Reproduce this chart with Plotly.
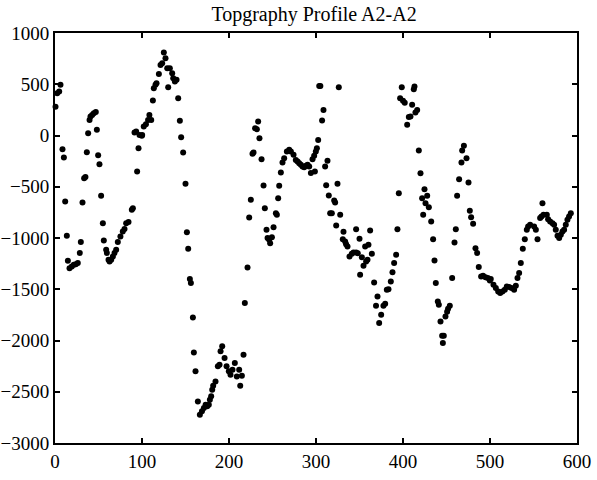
import plotly.graph_objects as go

TEXT_COLOR = "black"
FONT_FAMILY = "Liberation Serif, Times New Roman, serif"

distance = [
    0.6, 2.5, 4.8, 6.3, 8.6, 10.2, 11.7, 13.6, 14.8, 16.7, 19.3, 21.6, 23.9, 26.2,
    28.5, 29.7, 31.6, 33.5, 35.0, 36.6, 38.1, 39.7, 40.8, 42.7, 44.6, 46.9, 48.1,
    49.6, 51.1, 53.0, 55.0, 56.1, 58.8, 59.6, 61.5, 62.7, 64.6, 66.5, 68.4, 70.3,
    72.2, 75.2, 77.9, 79.9, 81.8, 84.5, 88.3, 89.5, 91.4, 93.3, 94.4, 96.0, 97.1,
    99.8,
    100.2, 102.0, 104.5, 107.0, 108.5, 110.6, 112.5, 113.6, 115.5, 116.7, 119.4,
    121.3, 123.2, 125.1, 127.0, 129.0, 130.1, 132.0, 134.7, 135.9, 137.8, 139.7,
    141.6, 143.5, 145.0, 147.3, 150.0, 151.6, 153.1, 155.0, 156.2, 158.5, 159.6,
    161.5, 164.2, 166.5, 168.9, 171.1, 173.1, 175.0, 176.8, 178.0, 179.5, 180.7,
    181.8, 184.5, 187.2, 189.1, 190.3, 192.2, 194.9, 197.2, 199.8, 201.7,
    204.0, 206.7, 209.0, 211.7, 212.9, 214.8, 216.7, 218.2, 221.3, 223.2, 225.1,
    227.0, 228.2, 230.0, 232.0, 233.5, 235.0, 237.4, 239.7, 241.2, 243.1, 244.3,
    246.2, 247.3, 249.3, 251.2, 253.9, 255.0, 256.5, 257.7, 259.6, 261.5, 263.4,
    266.5, 269.2, 271.1, 274.2, 276.8, 278.8, 280.7, 282.6, 284.5, 286.4, 288.4,
    290.3, 292.2, 294.1, 296.0, 297.9, 298.7, 299.8, 301.0, 302.5, 303.7,
    305.0, 307.0, 308.6, 310.5, 311.7, 313.2, 314.7, 316.3, 318.2, 320.9, 322.0,
    323.2, 324.7, 326.2, 327.8, 330.8, 331.6, 333.5, 334.6, 336.2, 338.5, 341.2,
    343.1, 346.1, 346.1, 348.0, 350.0, 350.7, 352.7, 354.6, 356.5, 357.6, 359.2,
    360.3, 362.2, 364.2, 366.8, 369.0, 370.7, 372.6, 374.9, 377.5, 379.5, 381.4,
    383.3, 386.0, 387.9, 389.8, 392.1, 393.6, 395.2, 396.7, 398.6, 400.0, 402.0,
    404.8, 406.7, 408.6, 410.5, 412.4, 413.2, 414.3, 416.3, 418.2, 420.1, 422.0,
    423.2, 424.7, 425.9, 427.8, 429.7, 432.4, 434.6, 436.2, 437.7, 440.0, 441.2,
    443.1, 445.0, 445.8, 446.9, 448.8, 450.7, 451.8, 453.8, 456.5, 459.2, 460.7,
    462.2, 464.5, 467.2, 468.0, 470.0, 473.0, 475.3, 476.8, 478.3, 480.6, 483.3,
    485.2, 487.1, 489.8, 492.0, 494.8, 497.5, 499.8,
    500.9, 504.0, 506.7, 509.4, 511.7, 514.3, 517.0, 519.3, 522.0, 524.7, 527.7,
    529.7, 531.6, 533.5, 535.4, 537.7, 540.0, 542.3, 543.8, 546.1, 550.7, 552.7,
    554.6, 557.6, 559.2, 560.3, 561.5, 565.3, 566.8, 569.1, 571.8, 573.7, 575.6,
    577.6, 579.5, 581.4, 583.3, 585.2, 587.1, 589.0, 590.9, 592.9,
]

elevation = [
    281, 413, 429, 494, -134, -215, -644, -979, -1222, -1294, -1277, -1262, -1255,
    -1245, -1147, -1040, -653, -416, -406, -163, 22, 152, 185, 201, 217, 230, 55,
    -192, -280, -589, -855, -1024, -1115, -1147, -1212, -1229, -1212, -1180, -1147,
    -1115, -1040, -985, -936, -913, -855, -845, -725, -709, 29, 39, -351, -124, 6,
    -3,
    6, 87, 110, 152, 200, 152, 341, 461, 494, 510, 601, 688, 705, 809, 754, 656,
    471, 656, 607, 559, 526, 543, 364, 143, -17, -166, -471, -943, -1105, -1401,
    -1440, -1775, -2116, -2301, -2594, -2724, -2691, -2659, -2626, -2642, -2626,
    -2577, -2545, -2480, -2441, -2399, -2252, -2236, -2106, -2057, -2171, -2252,
    -2301, -2334,
    -2285, -2220, -2350, -2285, -2441, -2344, -2139, -1635, -1287, -800, -628,
    -179, -166, 71, 62, 136, -26, -231, -488, -709, -920, -1001, -1018, -1050,
    -992, -894, -758, -774, -611, -491, -361, -264, -221, -156, -140, -156, -189,
    -238, -254, -270, -286, -302, -309, -296, -286, -302, -367, -231, -198, -351,
    -156, -124, -43, 484,
    484, 146, 250, -303, -485, -247, -585, -758, -758, -634, -653, -878, -471, 471,
    -774, -1011, -940, -1034, -1060, -1083, -1180, -1154, -1141, -1141, -914,
    -1148, -1008, -1359, -1187, -1271, -1083, -1229, -1212, -1066, -927, -1154,
    -1433, -1660, -1570, -1830, -1749, -1660, -1641, -1505, -1499, -1424, -1333,
    -1245, -1164, -914, -563, 364, 471, 340, 320, 104, 180, 185, 299, 452, 477,
    224, 250, -147, -368, -611, -774, -524, -660, -589, -699, -839, -1011, -1219,
    -1440, -1619, -1651, -1814, -1954, -2025, -1954, -1765, -1720, -1690, -1661,
    -1391, -1044, -914, -589, -426, -264, -147, -101, -221, -459, -735, -797, -862,
    -1099, -1147, -1284, -1375, -1369, -1382, -1391, -1414,
    -1401, -1456, -1489, -1521, -1537, -1521, -1505, -1472, -1479, -1489, -1505,
    -1466, -1391, -1342, -1245, -1105, -1011, -920, -887, -871, -887, -920, -1011,
    -806, -790, -660, -774, -774, -816, -839, -855, -871, -920, -978, -1001, -969,
    -936, -920, -871, -823, -790, -758,
]

x_ticks = [0, 100, 200, 300, 400, 500, 600]
y_ticks = [-3000, -2500, -2000, -1500, -1000, -500, 0, 500, 1000]

fig = go.Figure()
fig.add_trace(
    go.Scatter(
        x=distance,
        y=elevation,
        mode="markers",
        marker=dict(size=6, color="black"),
        showlegend=False,
        cliponaxis=False,
    )
)

axis_style = dict(
    showgrid=False,
    zeroline=False,
    showline=True,
    linecolor="black",
    linewidth=2,
    mirror="ticks",
    ticks="inside",
    ticklen=5,
    tickwidth=1.5,
    tickcolor="black",
    automargin=False,
    tickfont=dict(family=FONT_FAMILY, size=19, color=TEXT_COLOR),
)

fig.update_xaxes(range=[0, 600], tickvals=x_ticks, **axis_style)
fig.update_yaxes(range=[-3000, 1000], tickvals=y_ticks, **axis_style)

fig.update_layout(
    width=597,
    height=480,
    title=dict(
        text="Topgraphy Profile A2-A2",
        x=0.526,
        xanchor="center",
        y=0.971,
        yanchor="middle",
        font=dict(family=FONT_FAMILY, size=20, color=TEXT_COLOR),
    ),
    paper_bgcolor="white",
    plot_bgcolor="white",
    font=dict(family=FONT_FAMILY, color=TEXT_COLOR),
    margin=dict(l=55, r=20, t=33, b=37),
)

# drop the page's default body margin so the figure sits at the window corner
fig.write_html(
    "out.html",
    config={"displayModeBar": False},
    post_script="document.body.style.margin = '0';",
)
